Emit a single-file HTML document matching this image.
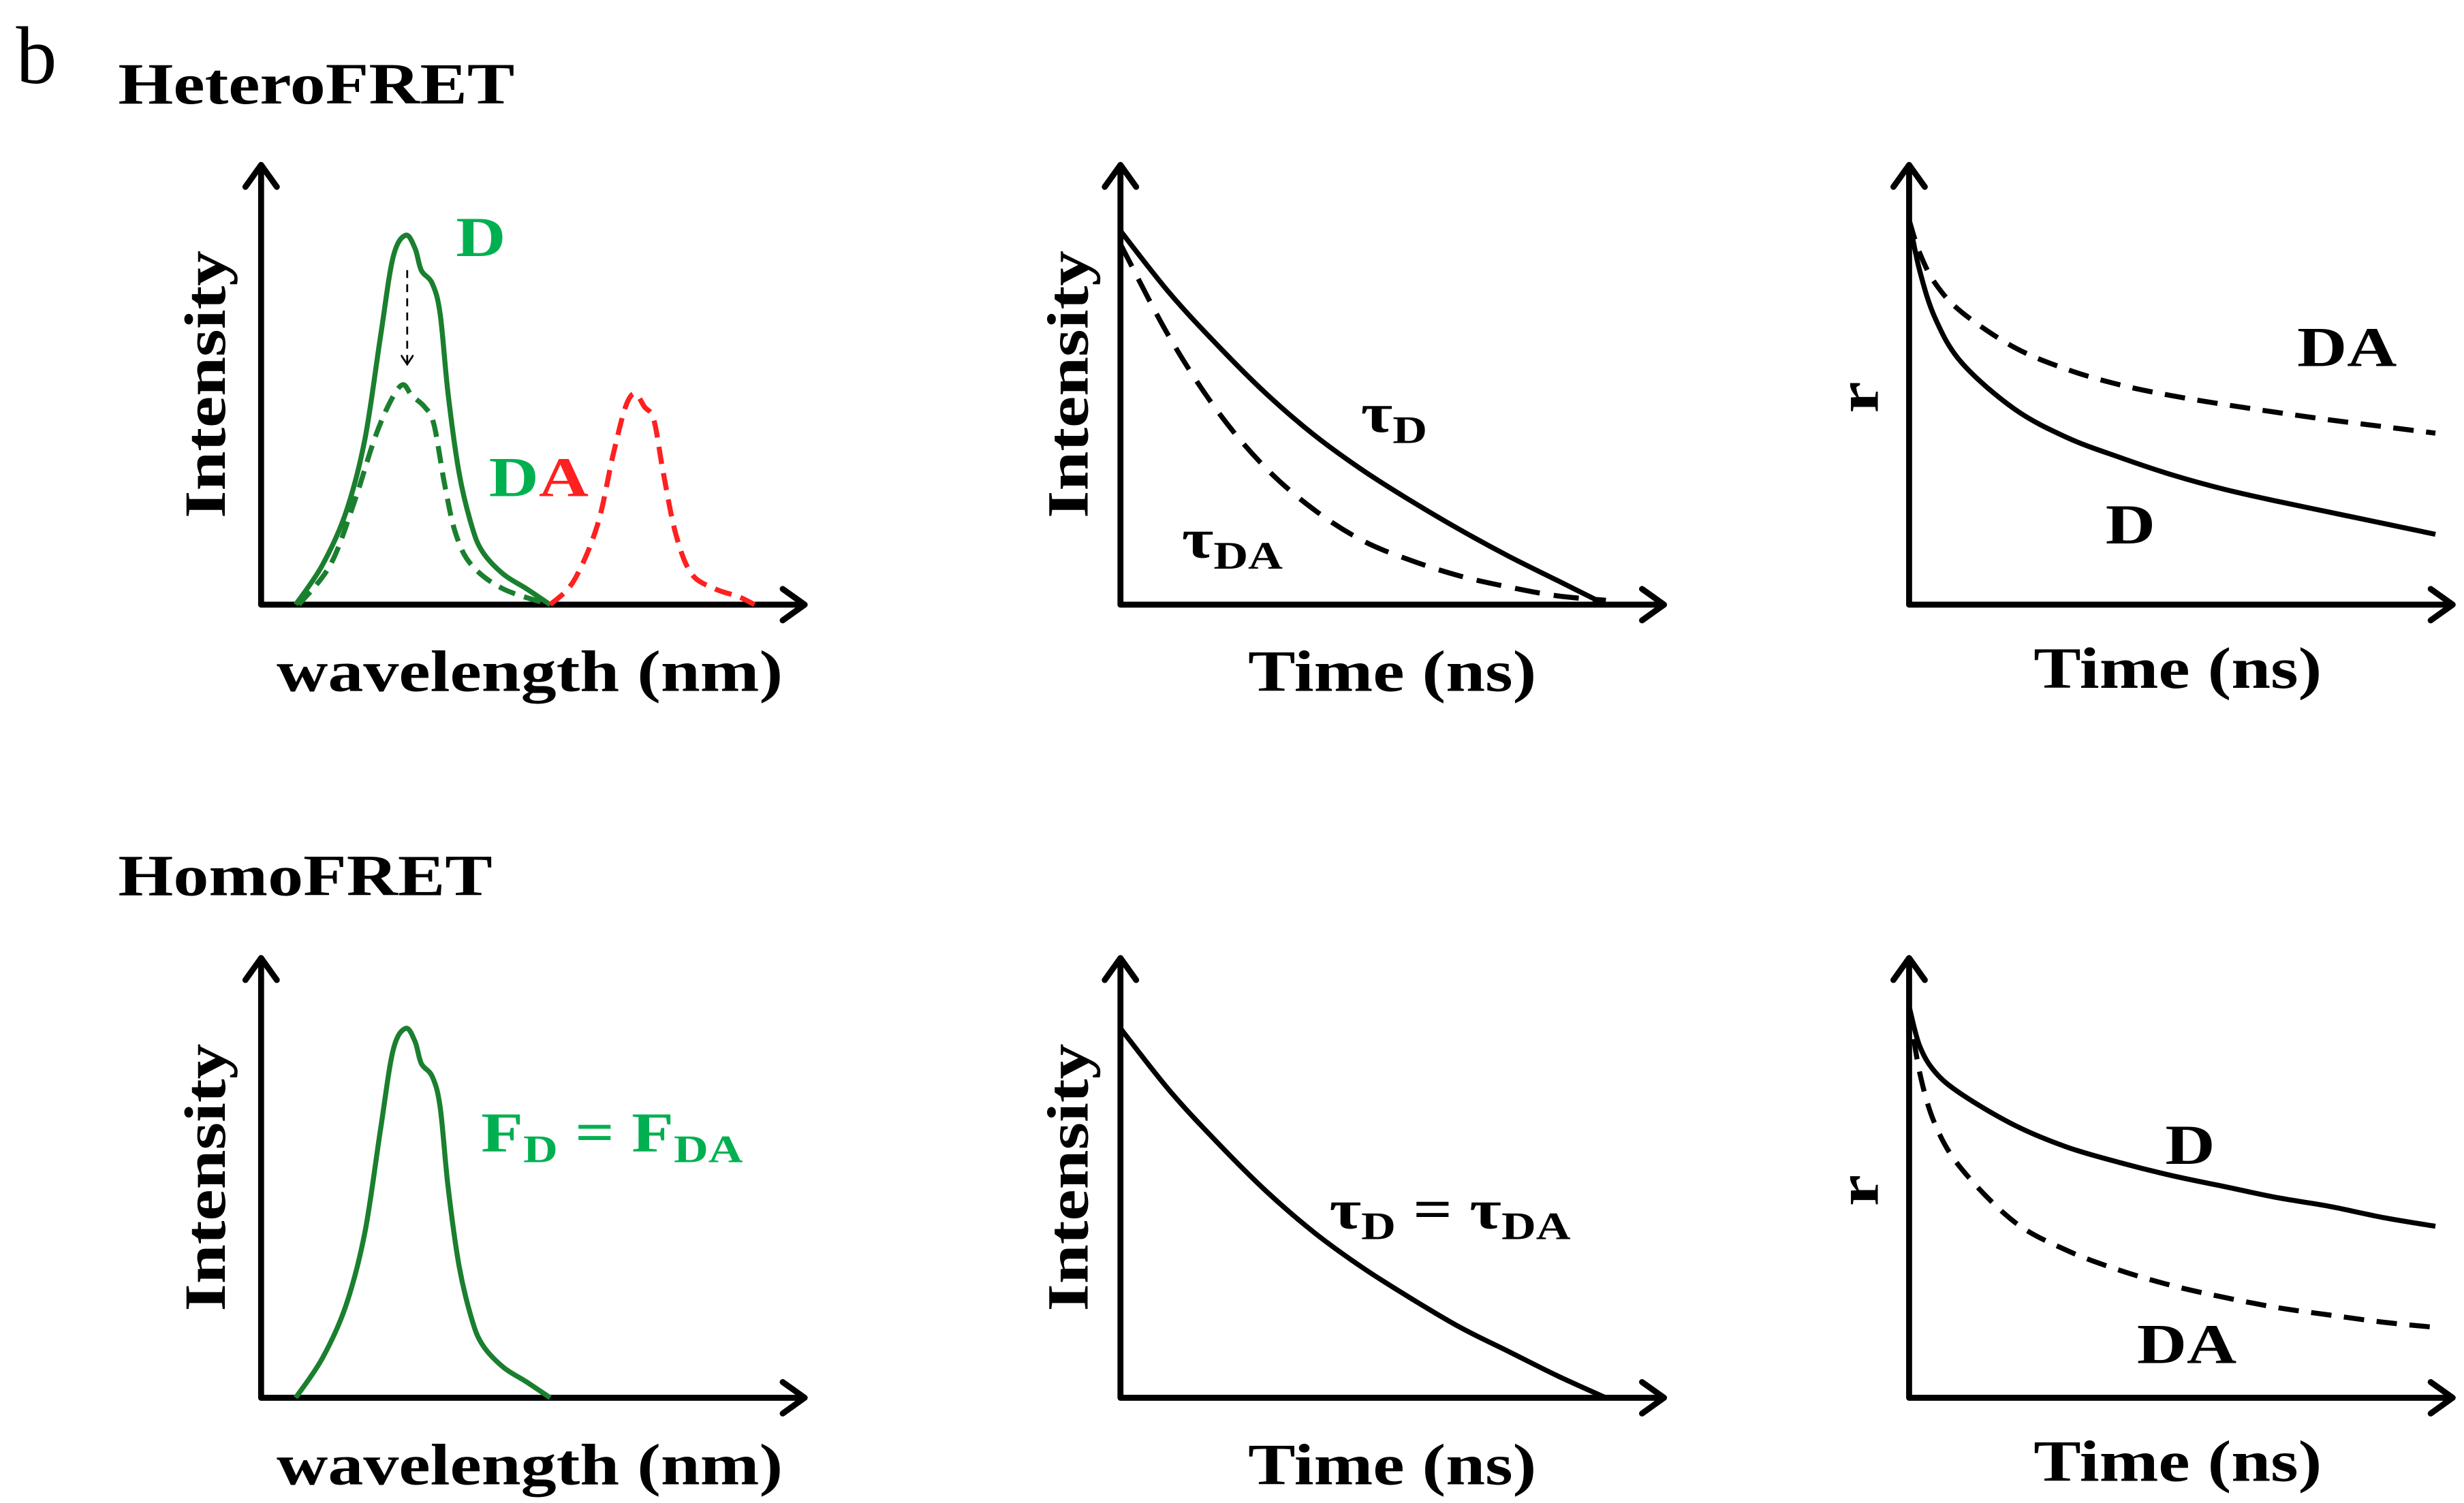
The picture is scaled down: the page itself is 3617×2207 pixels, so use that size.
<!DOCTYPE html>
<html><head><meta charset="utf-8"><style>
html,body{margin:0;padding:0;background:#fff;}
svg{display:block;}
text{font-family:"Liberation Serif",serif;font-weight:bold;}
</style></head><body>
<svg id="fig" width="3617" height="2207" viewBox="0 0 1568 957" xmlns="http://www.w3.org/2000/svg">
<defs>
<marker id="ah" markerWidth="8" markerHeight="8" refX="6" refY="4" orient="auto" markerUnits="userSpaceOnUse"><path d="M0,0 L6,4 L0,8" fill="none" stroke="#000" stroke-width="1.2"/></marker>
</defs>
<text x="10" y="53" font-size="52" style="font-weight:normal">b</text>
<g id="plots"></g>
</svg>
<script>
// Spectra (wavelength arbitrary units, normalized intensity)
const donorWl = [22,39,54,66,76,84,92,98,102,109,114,119,126,134,141,154,169,184];
const donorI  = [0,.09,.21,.375,.61,.79,.84,.81,.76,.73,.66,.48,.30,.18,.12,.07,.036,0];
const daWl    = [24,44,59,72,82,90,96,104,110,117,124,134,154,184];
const daI     = [0,.09,.23,.375,.46,.5,.475,.45,.41,.27,.16,.09,.036,0];
const accWl   = [184,199,214,224,232,238,244,250,256,264,274,289,304,314];
const accI    = [0,.054,.18,.34,.45,.48,.45,.42,.30,.16,.07,.036,.018,0];
// Intensity decays
const decayT  = [0,.1,.2,.3,.4,.5,.6,.7,.8,.9,1];
const decayD  = [.85,.71,.59,.48,.385,.305,.235,.17,.11,.055,0];
const decayDA = [.82,.61,.44,.31,.215,.145,.10,.065,.04,.02,.01];
const homoDecay = [.84,.70,.58,.47,.375,.295,.225,.16,.105,.05,0];
// Anisotropy decays
const anisT = [0,.02,.05,.1,.2,.3,.4,.5,.6,.7,.8,.9,1];
const heteroRD  = [.875,.76,.65,.55,.445,.38,.335,.295,.262,.235,.21,.185,.16];
const heteroRDA = [.875,.80,.73,.665,.585,.535,.50,.475,.455,.437,.42,.405,.39];
const homoRD  = [.89,.80,.74,.69,.62,.57,.535,.505,.48,.455,.435,.41,.39];
const homoRDA = [.89,.74,.62,.52,.40,.335,.29,.255,.228,.205,.188,.172,.16];

const NS='http://www.w3.org/2000/svg';
const root=document.getElementById('plots');
const texts=[];
function el(tag,attrs,parent){const e=document.createElementNS(NS,tag);for(const k in attrs)e.setAttribute(k,attrs[k]);(parent||root).appendChild(e);return e;}
function smooth(pts){let d='M'+pts[0][0]+','+pts[0][1];for(let i=0;i<pts.length-1;i++){const p0=pts[i-1]||pts[i],p1=pts[i],p2=pts[i+1],p3=pts[i+2]||p2;const c1=[p1[0]+(p2[0]-p0[0])/6,p1[1]+(p2[1]-p0[1])/6],c2=[p2[0]-(p3[0]-p1[0])/6,p2[1]-(p3[1]-p1[1])/6];d+=' C'+c1+' '+c2+' '+p2;}return d;}
function axes(ox,oy,name){
 const g=el('g',{});
 
 
 el('path',{d:`M${ox},${oy} L${ox},${oy-280} M${ox-10},${oy-266} L${ox},${oy-280} L${ox+10},${oy-266} M${ox},${oy} L${ox+346},${oy} M${ox+332},${oy-10} L${ox+346},${oy} L${ox+332},${oy+10}`,fill:'none',stroke:'#000','stroke-width':3.8,'stroke-linecap':'round','stroke-linejoin':'round'},g);
}
function text(x,y,s,size,fill,name,rot){const t=el('text',{x:x,y:y,'font-size':size,fill:fill||'#000'});t.textContent=s;texts.push([t,x,y,rot]);return t;}
function curve(xs,ys,sx,sy,color,dash,name,w){const pts=xs.map((v,i)=>[sx(v),sy(ys[i])]);const p=el('path',{d:smooth(pts),fill:'none',stroke:color,'stroke-width':w||3.2,'stroke-dasharray':dash||'none','stroke-linejoin':'round'});}

text(75,66,'HeteroFRET',37,'#000','heterofret-title');
text(75,570,'HomoFRET',37,'#000','homofret-title');

const rows=[385,890];
const cols=[166,713,1215];
rows.forEach((oy,ri)=>{
 const tag=ri?'homo':'hetero';
 cols.forEach((ox,ci)=>axes(ox,oy,tag+'-panel'+(ci+1)));
 const yS=v=>oy-v*280;
 const wS=v=>166+v;
 text(143,oy-55,'Intensity',37,'#000',tag+'-spectrum-y-title',true);
 text(337,oy+55,'wavelength (nm)',37,'#000',tag+'-spectrum-x-title').setAttribute('text-anchor','middle');
 curve(donorWl,donorI,wS,yS,'#1a7f2e',null,tag+'-donor-spectrum');
 const tS=v=>713+v*309;
 text(692,oy-55,'Intensity',37,'#000',tag+'-decay-y-title',true);
 text(886,oy+55,'Time (ns)',37,'#000',tag+'-decay-x-title').setAttribute('text-anchor','middle');
 const aS=v=>1215+v*335;
 text(1195,oy-122,'r',37,'#000',tag+'-anisotropy-y-title',true);
 text(1386,oy+53,'Time (ns)',37,'#000',tag+'-anisotropy-x-title').setAttribute('text-anchor','middle');
 if(ri===0){
  curve(daWl,daI,wS,yS,'#1a7f2e','11 6','hetero-da-spectrum');
  curve(accWl,accI,wS,yS,'#ff2020','11 6','hetero-acceptor-spectrum');
  const a=el('path',{d:'M259,172 L259,232',stroke:'#000','stroke-width':1.2,'stroke-dasharray':'5 4','marker-end':'url(#ah)',fill:'none'});
  
  text(290,163,'D',36,'#00b050','donor-label');
  const t=text(311,316,'D',36,'#00b050','da-label');const ts=el('tspan',{fill:'#ff2020'},t);ts.textContent='A';
  curve(decayT,decayD,tS,yS,'#000',null,'hetero-decay-d');
  curve(decayT,decayDA,tS,yS,'#000','16 9','hetero-decay-da');
  const t1=text(866,275,'τ',36,'#000','tau-d-label');const s1=el('tspan',{'font-size':25,dy:7},t1);s1.textContent='D';
  const t2=text(752,355,'τ',36,'#000','tau-da-label');const s2=el('tspan',{'font-size':25,dy:7},t2);s2.textContent='DA';
  curve(anisT,heteroRD,aS,yS,'#000',null,'hetero-anisotropy-d');
  curve(anisT,heteroRDA,aS,yS,'#000','13 8','hetero-anisotropy-da');
  text(1462,233,'DA',36,'#000','hetero-anis-da-label');
  text(1340,346,'D',36,'#000','hetero-anis-d-label');
 } else {
  const t=text(306,733,'F',36,'#00b050','fd-equals-fda-label');
  const a=el('tspan',{'font-size':25,dy:7},t);a.textContent='D';
  const b=el('tspan',{dy:-7},t);b.textContent=' = F';
  const c=el('tspan',{'font-size':25,dy:7},t);c.textContent='DA';
  curve(decayT,homoDecay,tS,yS,'#000',null,'homo-decay');
  const t2=text(846,782,'τ',36,'#000','tau-equal-label');
  const d1=el('tspan',{'font-size':25,dy:7},t2);d1.textContent='D';
  const d2=el('tspan',{dy:-7},t2);d2.textContent=' = τ';
  const d3=el('tspan',{'font-size':25,dy:7},t2);d3.textContent='DA';
  curve(anisT,homoRD,aS,yS,'#000',null,'homo-anisotropy-d');
  curve(anisT,homoRDA,aS,yS,'#000','13 8','homo-anisotropy-da');
  text(1378,741,'D',36,'#000','homo-anis-d-label');
  text(1360,868,'DA',36,'#000','homo-anis-da-label');
 }
});
// widen glyphs to match the reference's wide bold serif
texts.forEach(([t,x,y,rot])=>{
 const sc=1.22;
 let tr=`translate(${x},${y}) scale(${sc},1) translate(${-x},${-y})`;
 if(rot) tr=`rotate(-90 ${x} ${y}) `+tr;
 t.setAttribute('transform',tr);
});
</script>
</body></html>
